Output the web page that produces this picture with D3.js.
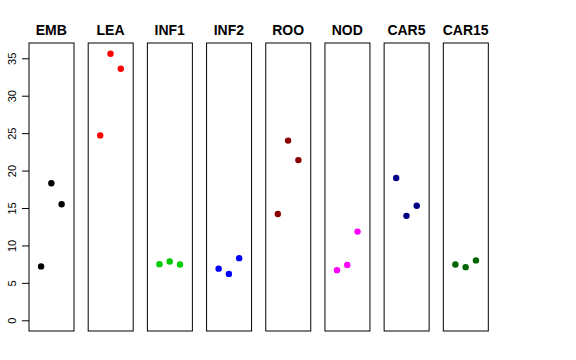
<!DOCTYPE html>
<html><head><meta charset="utf-8">
<script src="https://cdn.jsdelivr.net/npm/d3@7"></script>
<style>body{margin:0;background:#fff}</style>
</head><body>
<script>
const categories = ["EMB","LEA","INF1","INF2","ROO","NOD","CAR5","CAR15"];
const colors = ["#000000","#FF0000","#00CD00","#0000FF","#8B0000","#FF00FF","#000080","#006400"];
const valuesEMB = [7.2, 18.3, 15.5];
const valuesLEA = [24.7, 35.6, 33.6];
const valuesINF1 = [7.5, 7.85, 7.45];
const valuesINF2 = [6.9, 6.2, 8.3];
const valuesROO = [14.2, 24.0, 21.4];
const valuesNOD = [6.7, 7.4, 11.85];
const valuesCAR5 = [19.0, 13.95, 15.3];
const valuesCAR15 = [7.45, 7.1, 8.0];
const series = [valuesEMB, valuesLEA, valuesINF1, valuesINF2, valuesROO, valuesNOD, valuesCAR5, valuesCAR15];
const yTicks = [0,5,10,15,20,25,30,35];

const W = 576, H = 360;
const svg = d3.select("body").append("svg").attr("width", W).attr("height", H);

const plotTop = 43, plotBottom = 331;
const x = d3.scaleBand().domain(categories).range([29, 488]).paddingInner(0.245).paddingOuter(0);
const y = d3.scaleLinear().domain([-1.43, 37.04]).range([plotBottom, plotTop]);
const bw = x.bandwidth();
const xi = d3.scalePoint().domain([0,1,2]).range([bw*0.27, bw*0.73]);

categories.forEach((c, k) => {
  const g = svg.append("g").attr("transform", `translate(${x(c)},0)`);
  g.append("rect").attr("x", 0).attr("y", plotTop).attr("width", Math.round(bw)).attr("height", plotBottom - plotTop)
    .attr("fill", "none").attr("stroke", "#000").attr("stroke-width", 1);
  g.append("text").attr("x", bw/2).attr("y", 34.5).attr("text-anchor", "middle")
    .attr("font-family", "Liberation Sans, Arial, sans-serif").attr("font-weight", "bold")
    .attr("font-size", 14).text(c);
  g.selectAll("circle").data(series[k]).join("circle")
    .attr("cx", (d,i) => xi(i)).attr("cy", d => y(d)).attr("r", 3.2).attr("fill", colors[k]);
});

const axis = d3.axisLeft(y).tickValues(yTicks).tickSize(7).tickPadding(4);
const ag = svg.append("g").attr("transform", "translate(29,0)").call(axis);
ag.select(".domain").remove();
ag.selectAll(".tick line").attr("stroke", "#000");
ag.selectAll(".tick text")
  .attr("font-family", "Liberation Sans, Arial, sans-serif").attr("font-size", 11).attr("fill", "#000")
  .attr("text-anchor", "middle").attr("dy", 0)
  .attr("transform", "translate(-17,0) rotate(-90)").attr("x", 0).attr("y", 4);
</script>
</body></html>
